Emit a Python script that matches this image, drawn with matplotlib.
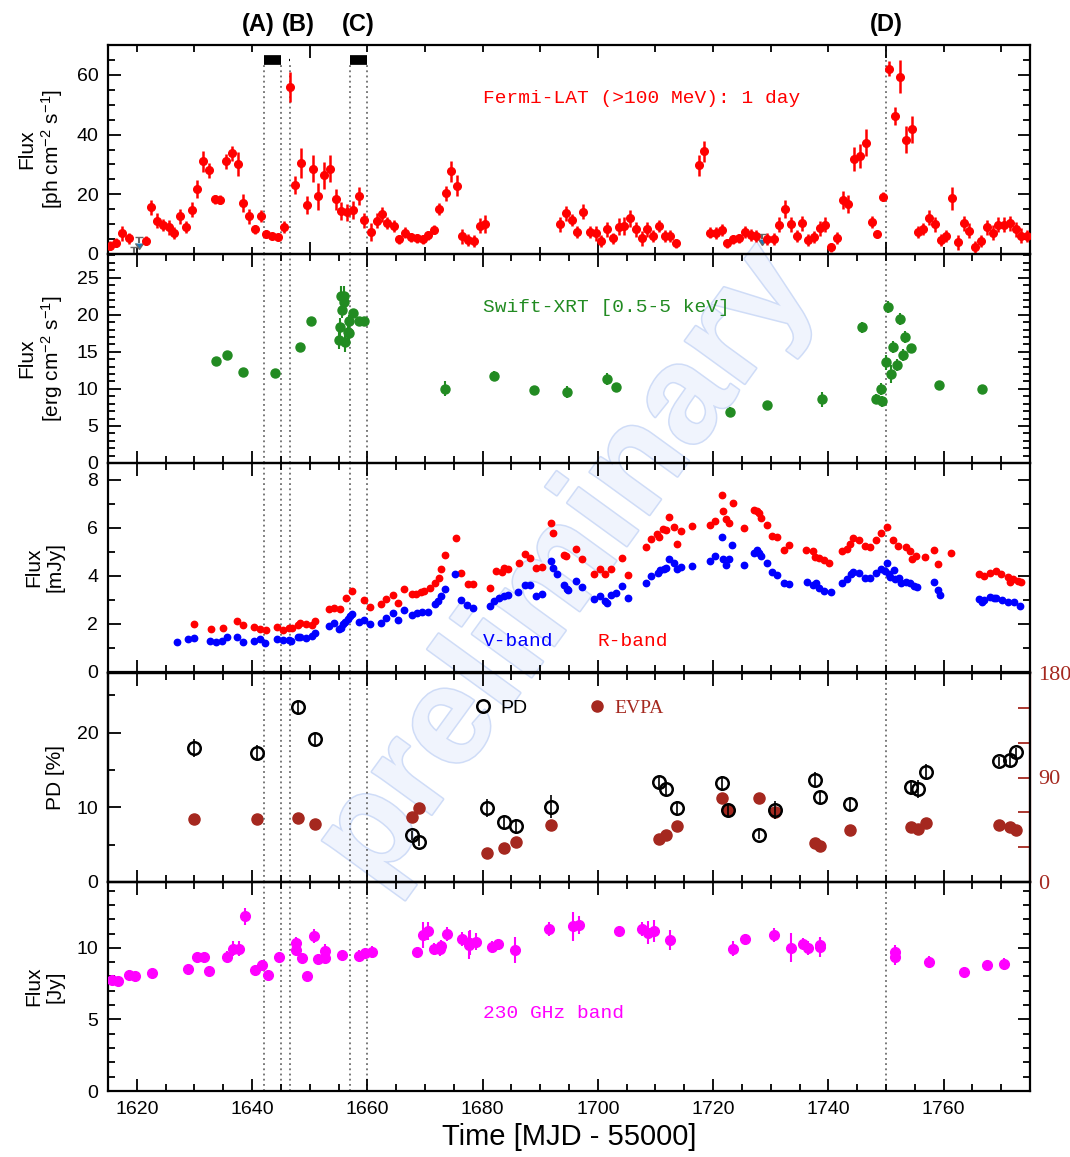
import matplotlib
matplotlib.use("Agg")
import matplotlib.pyplot as plt
from matplotlib.ticker import MultipleLocator
from matplotlib.lines import Line2D
import matplotlib.patheffects as pe

# ---------------- data ----------------
# Fermi-LAT (>100 MeV) daily flux [1e-7 ph cm^-2 s^-1]
fermi_t = [1615.4, 1616.4, 1617.5, 1618.6, 1621.6, 1622.5, 1623.5, 1624.5, 1625.5, 1626.5,
           1627.5, 1628.5, 1629.5, 1630.5, 1631.5, 1632.5, 1633.5, 1634.5, 1635.5, 1636.5,
           1637.5, 1638.5, 1639.5, 1640.5, 1641.5, 1642.5, 1643.5, 1644.5, 1645.5, 1646.5,
           1647.5, 1648.5, 1649.5, 1650.5, 1651.5, 1652.5, 1653.5, 1654.5, 1655.5, 1656.5,
           1657.5, 1658.5, 1659.5, 1660.6, 1661.6, 1662.5, 1663.5, 1664.6, 1665.5, 1666.5,
           1667.6, 1668.6, 1669.6, 1670.6, 1671.6, 1672.5, 1673.6, 1674.5, 1675.6, 1676.5,
           1677.5, 1678.6, 1679.5, 1680.5, 1693.5, 1694.5, 1695.5, 1696.4, 1697.5, 1698.6,
           1699.6, 1700.6, 1701.6, 1702.6, 1703.6, 1704.6, 1705.6, 1706.6, 1707.6, 1708.6,
           1709.6, 1710.6, 1711.6, 1712.6, 1713.6, 1717.5, 1718.5, 1719.5, 1720.5, 1721.5,
           1722.5, 1723.5, 1724.5, 1725.5, 1726.5, 1727.5, 1729.4, 1730.5, 1731.5, 1732.5,
           1733.5, 1734.5, 1735.5, 1736.5, 1737.5, 1738.5, 1739.5, 1740.5, 1741.5, 1742.5,
           1743.5, 1744.5, 1745.5, 1746.5, 1747.5, 1748.5, 1749.5, 1750.5, 1751.5, 1752.5,
           1753.5, 1754.5, 1755.5, 1756.5, 1757.5, 1758.5, 1759.5, 1760.5, 1761.5, 1762.5,
           1763.5, 1764.5, 1765.5, 1766.5, 1767.5, 1768.5, 1769.5, 1770.5, 1771.5, 1772.5,
           1773.5, 1774.5]
fermi_f = [2.8, 3.7, 7.0, 5.2, 4.4, 15.6, 11.1, 9.7, 8.9, 7.0,
           12.6, 9.1, 14.9, 21.7, 31.1, 28.1, 18.3, 18.1, 31.1, 33.7,
           30.0, 17.2, 12.6, 8.3, 12.8, 6.7, 5.9, 5.7, 9.1, 55.9,
           23.1, 30.6, 16.3, 28.6, 19.4, 26.3, 28.6, 18.3, 14.4, 13.9,
           14.8, 19.4, 11.3, 7.4, 11.1, 13.3, 10.3, 9.4, 5.0, 7.2,
           5.6, 5.2, 5.0, 6.3, 8.1, 15.0, 20.3, 27.7, 22.8, 5.9,
           4.8, 4.3, 9.4, 10.0, 10.0, 13.7, 11.4, 7.4, 14.1, 7.4,
           7.0, 4.4, 8.3, 5.2, 9.2, 9.4, 11.9, 8.3, 5.2, 8.3,
           6.1, 9.4, 6.1, 6.1, 3.6, 29.7, 34.4, 7.2, 7.0, 8.1,
           3.6, 5.0, 5.2, 7.4, 6.3, 5.9, 5.0, 5.0, 9.8, 15.0,
           10.0, 6.1, 10.3, 4.8, 5.6, 8.6, 9.8, 2.2, 5.3, 18.1,
           16.7, 31.9, 32.8, 37.2, 10.6, 6.7, 19.1, 62.0, 46.3, 59.4,
           38.3, 41.7, 7.4, 8.3, 12.2, 10.0, 4.8, 6.1, 18.6, 3.9,
           10.3, 7.8, 2.2, 4.4, 8.9, 7.2, 9.8, 9.8, 10.3, 8.3,
           6.1, 6.1]
fermi_e = [1.5, 1.5, 2.5, 2.0, 1.5, 2.5, 2.5, 2.0, 2.5, 2.0,
           2.5, 2.0, 2.5, 3.0, 3.5, 2.5, 1.5, 1.5, 2.5, 2.5,
           4.0, 3.0, 2.5, 1.5, 2.0, 1.5, 1.0, 1.0, 2.0, 5.0,
           3.0, 5.0, 3.0, 4.5, 4.5, 4.5, 4.5, 3.5, 3.0, 3.0,
           3.0, 3.0, 2.5, 3.0, 2.5, 2.5, 2.0, 2.0, 1.5, 2.0,
           1.5, 1.5, 1.5, 1.5, 1.5, 2.0, 2.5, 3.5, 3.5, 2.5,
           2.0, 2.0, 2.5, 3.0, 2.5, 2.5, 2.0, 2.0, 2.5, 2.0,
           2.5, 2.0, 2.5, 2.0, 3.0, 3.0, 3.0, 2.5, 2.5, 2.5,
           2.0, 2.0, 2.0, 2.0, 1.5, 3.5, 3.5, 2.0, 2.0, 2.0,
           1.5, 1.5, 1.5, 2.0, 2.0, 2.0, 2.0, 2.0, 2.5, 3.0,
           2.5, 2.0, 2.5, 2.0, 2.0, 2.5, 2.5, 1.5, 2.0, 3.0,
           3.0, 4.0, 4.0, 4.5, 2.0, 1.0, 1.5, 2.5, 3.0, 5.5,
           4.5, 4.5, 2.0, 2.0, 2.5, 2.5, 2.0, 2.0, 4.0, 2.5,
           2.5, 2.5, 2.0, 2.0, 2.5, 2.5, 2.5, 2.5, 2.5, 2.5,
           2.5, 2.0]
fermi_ul_t = [1619.5, 1620.4, 1728.5]
fermi_ul_f = [2.2, 5.6, 6.8]

# Swift-XRT (0.5-5 keV) flux [1e-12 erg cm^-2 s^-1]
xrt_t = [1633.7, 1635.7, 1638.4, 1643.9, 1648.4, 1650.2, 1655.1, 1655.2, 1655.4, 1655.9,
         1655.9, 1655.6, 1656.2, 1656.7, 1656.9, 1656.8, 1657.5, 1658.5, 1659.5, 1673.5,
         1682.0, 1688.9, 1694.7, 1701.6, 1703.1, 1722.9, 1729.3, 1738.9, 1745.9, 1748.2,
         1749.1, 1749.4, 1750.0, 1750.3, 1750.9, 1751.3, 1752.0, 1752.4, 1752.9, 1753.3,
         1754.3, 1759.2, 1766.6]
xrt_f = [13.7, 14.6, 12.3, 12.2, 15.7, 19.1, 16.6, 18.4, 22.6, 22.6,
         21.7, 20.7, 16.3, 17.7, 17.5, 19.2, 20.2, 19.2, 19.1, 10.0,
         11.8, 9.8, 9.6, 11.3, 10.2, 6.9, 7.8, 8.6, 18.3, 8.7,
         10.0, 8.3, 13.6, 21.0, 12.0, 15.7, 13.2, 19.4, 14.6, 17.0,
         15.5, 10.5, 10.0]
xrt_e = [0.5, 0.5, 0.5, 0.5, 0.5, 0.5, 1.2, 1.2, 1.3, 1.3,
         1.2, 1.2, 1.3, 1.2, 1.2, 0.8, 0.6, 0.5, 0.5, 1.0,
         0.6, 0.6, 0.8, 0.8, 0.6, 0.6, 0.5, 1.0, 0.7, 0.6,
         0.8, 0.8, 1.0, 0.8, 1.2, 0.8, 0.8, 0.8, 0.8, 0.8,
         0.6, 0.6, 0.5]

# Optical V-band flux [mJy]
vband_t = [1626.9, 1628.9, 1629.9, 1632.7, 1633.7, 1634.8, 1635.7, 1637.4, 1638.4, 1640.3,
           1641.3, 1642.3, 1644.4, 1645.3, 1646.4, 1646.8, 1647.9, 1648.4, 1649.4, 1650.4,
           1651.0, 1653.3, 1654.3, 1655.1, 1655.4, 1655.8, 1656.2, 1656.6, 1657.0, 1657.4,
           1658.5, 1659.4, 1660.4, 1662.3, 1663.3, 1664.4, 1665.4, 1666.4, 1667.7, 1668.6,
           1669.5, 1670.6, 1671.7, 1672.2, 1672.8, 1673.5, 1675.3, 1676.3, 1677.3, 1678.3,
           1681.3, 1682.0, 1682.8, 1683.7, 1684.4, 1686.1, 1687.3, 1688.3, 1689.3, 1690.3,
           1691.8, 1692.3, 1692.9, 1694.2, 1694.6, 1694.8, 1696.3, 1697.3, 1699.3, 1700.3,
           1701.3, 1701.6, 1702.3, 1703.1, 1704.2, 1705.3, 1708.3, 1709.2, 1710.4, 1710.8,
           1711.5, 1711.9, 1712.3, 1713.2, 1713.8, 1714.4, 1716.4, 1719.4, 1720.4, 1721.5,
           1721.8, 1722.3, 1722.8, 1723.3, 1725.3, 1727.1, 1727.6, 1727.9, 1728.3, 1729.3,
           1730.3, 1731.1, 1732.3, 1733.1, 1736.3, 1737.4, 1737.8, 1738.3, 1739.2, 1740.4,
           1742.3, 1743.3, 1743.9, 1744.3, 1745.3, 1746.3, 1747.3, 1748.2, 1749.2, 1749.8,
           1750.2, 1750.5, 1750.7, 1751.4, 1751.6, 1752.3, 1752.6, 1753.4, 1754.2, 1754.9,
           1755.4, 1758.3, 1759.1, 1759.4, 1766.2, 1766.6, 1767.1, 1768.1, 1768.8, 1769.1,
           1770.1, 1771.2, 1772.3, 1773.3]
vband_f = [1.26, 1.37, 1.41, 1.30, 1.26, 1.31, 1.44, 1.47, 1.26, 1.30,
           1.37, 1.19, 1.37, 1.33, 1.34, 1.30, 1.44, 1.44, 1.42, 1.51,
           1.62, 1.92, 2.02, 1.78, 1.85, 1.99, 2.10, 2.20, 2.34, 2.41,
           2.09, 2.17, 1.99, 2.03, 2.23, 2.45, 2.16, 2.59, 2.37, 2.45,
           2.48, 2.50, 2.81, 2.96, 3.17, 3.44, 4.09, 2.99, 2.79, 2.68,
           2.75, 2.96, 3.06, 3.17, 3.20, 3.35, 3.64, 3.61, 3.17, 3.25,
           4.62, 4.34, 4.09, 3.64, 3.44, 3.42, 3.79, 3.53, 3.03, 3.17,
           2.95, 2.89, 3.20, 3.28, 3.56, 3.10, 3.72, 4.00, 4.14, 4.25,
           4.30, 4.34, 4.72, 4.55, 4.27, 4.38, 4.41, 4.62, 4.83, 5.62,
           4.69, 4.44, 4.72, 5.30, 4.44, 4.97, 5.08, 4.97, 4.83, 4.55,
           4.16, 4.02, 3.69, 3.65, 3.75, 3.64, 3.69, 3.51, 3.37, 3.33,
           3.72, 3.86, 4.07, 4.18, 4.11, 3.93, 3.93, 4.11, 4.30, 4.21,
           4.52, 4.07, 3.97, 4.23, 3.86, 3.90, 3.69, 3.75, 3.72, 3.58,
           3.54, 3.76, 3.40, 3.20, 3.03, 2.92, 3.00, 3.13, 3.06, 3.10,
           3.00, 2.92, 2.92, 2.75]

# Optical R-band flux [mJy]
rband_t = [1629.9, 1632.8, 1634.9, 1637.4, 1638.4, 1640.4, 1641.3, 1642.4, 1644.4, 1645.3,
           1646.4, 1646.9, 1647.9, 1648.4, 1649.4, 1650.4, 1651.0, 1653.3, 1654.3, 1655.3,
           1656.3, 1657.4, 1659.4, 1660.4, 1662.4, 1663.3, 1664.4, 1665.4, 1666.4, 1667.7,
           1668.5, 1669.3, 1669.9, 1670.8, 1671.8, 1672.4, 1672.8, 1673.4, 1675.4, 1676.3,
           1677.4, 1678.3, 1681.3, 1682.3, 1683.3, 1683.7, 1684.4, 1686.3, 1687.3, 1688.3,
           1689.3, 1690.3, 1691.8, 1692.3, 1694.2, 1694.4, 1696.3, 1697.3, 1699.3, 1700.3,
           1701.3, 1702.3, 1704.2, 1705.3, 1708.3, 1709.2, 1710.3, 1710.7, 1711.3, 1711.9,
           1712.3, 1713.3, 1713.8, 1714.4, 1716.4, 1719.4, 1720.4, 1721.5, 1721.8, 1722.3,
           1722.8, 1723.4, 1725.3, 1727.1, 1727.6, 1727.9, 1728.3, 1729.3, 1730.2, 1731.1,
           1732.3, 1733.1, 1736.2, 1737.3, 1737.7, 1738.3, 1739.2, 1740.2, 1742.3, 1743.3,
           1743.7, 1744.2, 1745.3, 1746.3, 1747.3, 1748.2, 1749.2, 1750.2, 1751.3, 1752.1,
           1753.4, 1754.2, 1754.6, 1755.2, 1756.7, 1758.3, 1759.1, 1761.3, 1766.2, 1767.1,
           1768.1, 1769.1, 1769.9, 1771.1, 1771.6, 1772.1, 1772.9, 1773.4]
rband_f = [1.99, 1.78, 1.83, 2.13, 1.96, 1.88, 1.81, 1.76, 1.88, 1.76,
           1.83, 1.83, 1.96, 2.03, 1.99, 1.96, 2.13, 2.61, 2.68, 2.61,
           3.10, 3.37, 3.00, 2.72, 2.85, 3.03, 3.22, 2.86, 3.44, 3.24,
           3.26, 3.33, 3.37, 3.50, 3.72, 3.90, 4.30, 4.85, 5.56, 4.14,
           3.68, 3.65, 3.51, 4.20, 4.16, 4.34, 4.27, 4.55, 4.92, 4.73,
           4.34, 4.38, 6.21, 5.80, 4.85, 4.83, 5.10, 4.69, 4.07, 4.27,
           4.09, 4.27, 4.73, 4.05, 5.21, 5.52, 5.73, 5.63, 5.96, 5.91,
           6.46, 6.05, 5.31, 5.86, 6.07, 6.11, 6.27, 7.36, 6.69, 6.35,
           6.21, 7.04, 6.00, 6.76, 6.69, 6.62, 6.42, 6.11, 5.66, 5.63,
           5.08, 5.28, 5.06, 5.02, 4.79, 4.74, 4.65, 4.52, 5.02, 5.10,
           5.31, 5.57, 5.48, 5.24, 5.21, 5.49, 5.77, 6.02, 5.48, 5.24,
           5.21, 5.03, 4.72, 4.83, 4.80, 5.08, 4.51, 4.97, 4.07, 4.00,
           4.14, 4.20, 4.09, 3.97, 3.75, 3.89, 3.79, 3.75]

# Optical polarization: degree [%] and angle [deg]
pol_t = [1629.9, 1640.8, 1647.95, 1650.9, 1667.7, 1668.9, 1680.8, 1683.8, 1685.8, 1691.9,
         1710.6, 1711.8, 1713.8, 1721.6, 1722.6, 1727.9, 1730.7, 1737.7, 1738.6, 1743.7,
         1754.4, 1755.6, 1756.9, 1769.6, 1771.6, 1772.6]
pd_val = [17.96, 17.3, 23.4, 19.1, 6.27, 5.38, 9.96, 8.04, 7.47, 10.1,
          13.4, 12.5, 9.9, 13.2, 9.7, 6.36, 9.7, 13.7, 11.4, 10.4,
          12.7, 12.5, 14.8, 16.2, 16.3, 17.4]
pd_err = [1.2, 1.0, 1.0, 0.8, 0.6, 0.6, 1.2, 0.8, 1.0, 1.5,
          0.8, 0.8, 1.0, 1.0, 0.8, 0.6, 1.2, 1.0, 0.8, 0.8,
          1.0, 1.2, 1.0, 0.6, 0.8, 0.6]
evpa_val = [54.6, 54.6, 55.4, 50.3, 56.0, 63.4, 25.1, 28.9, 34.6, 48.9,
            37.4, 40.3, 48.0, 72.3, 62.3, 72.3, 60.3, 33.7, 30.9, 44.6,
            47.4, 46.0, 50.9, 48.9, 47.4, 45.1]

# SMA 230 GHz flux [Jy]
sma_t = [1615.7, 1616.8, 1618.7, 1619.7, 1622.7, 1628.8, 1630.5, 1631.7, 1632.6, 1635.6,
         1636.7, 1637.8, 1638.8, 1640.5, 1641.7, 1642.7, 1644.7, 1647.6, 1647.7, 1648.6,
         1649.6, 1650.7, 1651.5, 1652.7, 1652.7, 1655.6, 1658.5, 1659.6, 1660.8, 1668.6,
         1669.6, 1670.6, 1671.5, 1672.7, 1672.8, 1673.8, 1676.5, 1677.6, 1677.8, 1678.8,
         1681.6, 1682.6, 1685.7, 1691.6, 1695.7, 1696.7, 1703.6, 1707.6, 1708.7, 1709.7,
         1712.6, 1723.5, 1725.5, 1730.5, 1733.5, 1735.6, 1736.4, 1738.5, 1738.5, 1751.6,
         1751.6, 1757.5, 1763.6, 1767.5, 1770.5]
sma_f = [7.75, 7.66, 8.13, 8.03, 8.24, 8.52, 9.33, 9.33, 8.40, 9.38,
         9.95, 9.95, 12.2, 8.45, 8.82, 8.13, 9.33, 10.37, 9.86, 9.28,
         8.01, 10.83, 9.21, 9.75, 9.28, 9.51, 9.44, 9.61, 9.72, 9.68,
         10.88, 11.18, 9.91, 9.91, 10.14, 10.95, 10.60, 10.21, 10.37, 10.44,
         10.07, 10.25, 9.86, 11.34, 11.50, 11.60, 11.18, 11.30, 11.06, 11.18,
         10.56, 9.95, 10.65, 10.88, 10.02, 10.30, 9.98, 10.07, 10.22, 9.68,
         9.33, 9.03, 8.29, 8.82, 8.87]
sma_err = [0.3, 0.3, 0.3, 0.3, 0.3, 0.3, 0.4, 0.4, 0.3, 0.4,
           0.5, 0.5, 0.6, 0.3, 0.3, 0.3, 0.4, 0.4, 0.3, 0.3,
           0.3, 0.5, 0.3, 0.5, 0.3, 0.3, 0.4, 0.4, 0.4, 0.3,
           0.9, 0.6, 0.4, 0.5, 0.4, 0.5, 0.5, 1.0, 0.9, 0.6,
           0.4, 0.4, 0.9, 0.5, 1.0, 0.6, 0.3, 0.5, 0.8, 0.8,
           0.7, 0.5, 0.3, 0.5, 1.0, 0.4, 0.5, 0.7, 0.5, 0.5,
           0.5, 0.4, 0.3, 0.3, 0.4]

# Flare periods and event markers
period_bars = [(1642.0, 1645.0), (1646.45, 1646.55), (1657.0, 1660.0)]
event_lines = [1642.0, 1645.0, 1646.5, 1657.0, 1660.0, 1750.0]
event_labels = ["(A)", "(B)", "(C)", "(D)"]
event_label_t = [1641.0, 1648.0, 1658.5, 1750.1]

# ---------------- style ----------------
sans = ["Liberation Sans", "DejaVu Sans"]
mono = ["Liberation Mono", "DejaVu Sans Mono"]
serif = ["Liberation Serif", "DejaVu Serif"]
plt.rcParams["font.family"] = sans
plt.rcParams["mathtext.fontset"] = "custom"
plt.rcParams["mathtext.rm"] = "Liberation Sans"
plt.rcParams["mathtext.it"] = "Liberation Sans:italic"

RED = "#ff0000"
GREEN = "#228b22"
BLUE = "#0000ff"
BROWN = "#a5281f"
MAGENTA = "#ff00ff"

fig = plt.figure(figsize=(10.7, 11.57), dpi=100)

# shaded "preliminary" watermark behind the panels
fig.text(0.53, 0.51, "preliminary", rotation=54, ha="center", va="center",
         fontsize=100, fontweight="bold", family=sans,
         color="#f0f4fd", zorder=-5,
         path_effects=[pe.withStroke(linewidth=2.2, foreground="#cfdcf7")])

W_PX, H_PX = 1070.0, 1157.0
left = 108 / W_PX
width = 922 / W_PX
panel_h = 209 / H_PX
panel_tops = [45, 254, 463, 673, 882]

axes = []
for top in panel_tops:
    bottom = 1 - (top + 209) / H_PX
    ax = fig.add_axes([left, bottom, width, panel_h])
    ax.patch.set_alpha(0.0)
    axes.append(ax)

ax1, ax2, ax3, ax4, ax5 = axes

for ax in axes:
    ax.set_xlim(1615, 1775)
    for s in ax.spines.values():
        s.set_linewidth(1.6)
    ax.tick_params(which="both", direction="in", top=True, right=True,
                   labelsize=14, width=1.3, pad=7)
    ax.tick_params(which="major", length=9)
    ax.tick_params(which="minor", length=5)
    if ax is ax1:
        ax.xaxis.set_major_locator(MultipleLocator(50))
        ax.xaxis.set_minor_locator(MultipleLocator(10))
    else:
        ax.xaxis.set_major_locator(MultipleLocator(20))
        ax.xaxis.set_minor_locator(MultipleLocator(5))
    if ax is not ax5:
        ax.tick_params(labelbottom=False)
    # event lines
    for t in event_lines:
        if ax is ax1 and t < 1700:
            ax.vlines(t, 0, 63.5, colors="#555555", linestyles=(0, (1.2, 2.2)),
                      linewidth=1.1, zorder=1)
        else:
            ax.axvline(t, color="#555555", linestyle=(0, (1.2, 2.2)),
                       linewidth=1.1, zorder=1)

# ---- panel 1: Fermi-LAT ----
ax1.errorbar(fermi_t, fermi_f, yerr=fermi_e, fmt="o", color=RED, ms=5.5,
             elinewidth=1.8, capsize=0, zorder=3)
ax1.errorbar(fermi_ul_t, fermi_ul_f, yerr=1.8, uplims=True, fmt="none",
             ecolor="#666666", elinewidth=1.5, capsize=3, zorder=3)
for t0, t1 in period_bars:
    ax1.hlines(65, t0, t1, colors="black", linewidth=7 if t1 - t0 > 1 else 1.6,
               zorder=4)
ax1.set_ylim(0, 70)
ax1.yaxis.set_major_locator(MultipleLocator(20))
ax1.yaxis.set_minor_locator(MultipleLocator(5))
ax1.text(0.407, 0.742, "Fermi-LAT (>100 MeV): 1 day", transform=ax1.transAxes,
         color=RED, fontsize=14, family=mono, va="center", ha="left")
for lab, t in zip(event_labels, event_label_t):
    ax1.text(t, 1.1, lab, transform=ax1.get_xaxis_transform(), ha="center",
             va="center", fontsize=17, fontweight="bold")
ax1.set_ylabel("Flux\n[ph cm$^{-2}$ s$^{-1}$]", fontsize=15, linespacing=1.15)

# ---- panel 2: Swift-XRT ----
ax2.errorbar(xrt_t, xrt_f, yerr=xrt_e, fmt="o", color=GREEN, ms=6.5,
             elinewidth=1.5, capsize=0, zorder=3)
ax2.set_ylim(0, 28.2)
ax2.yaxis.set_major_locator(MultipleLocator(5))
ax2.yaxis.set_minor_locator(MultipleLocator(1))
ax2.text(0.407, 0.746, "Swift-XRT [0.5-5 keV]", transform=ax2.transAxes,
         color=GREEN, fontsize=14, family=mono, va="center", ha="left")
ax2.set_ylabel("Flux\n[erg cm$^{-2}$ s$^{-1}$]", fontsize=15, linespacing=1.15)

# ---- panel 3: optical V and R ----
ax3.plot(rband_t, rband_f, "o", color=RED, ms=4.6, zorder=3)
ax3.plot(vband_t, vband_f, "o", color=BLUE, ms=4.6, zorder=3)
ax3.set_ylim(0, 8.7)
ax3.yaxis.set_major_locator(MultipleLocator(2))
ax3.yaxis.set_minor_locator(MultipleLocator(1))
ax3.text(0.407, 0.144, "V-band", transform=ax3.transAxes, color=BLUE,
         fontsize=14, family=mono, va="center", ha="left")
ax3.text(0.531, 0.144, "R-band", transform=ax3.transAxes, color=RED,
         fontsize=14, family=mono, va="center", ha="left")
ax3.set_ylabel("Flux\n[mJy]", fontsize=15, linespacing=1.15)

# ---- panel 4: polarization ----
ax4.tick_params(which="both", right=False)
ax4r = ax4.twinx()
ax4r.patch.set_alpha(0.0)
ax4r.plot(pol_t, evpa_val, "o", color=BROWN, ms=8, zorder=2)
ax4.errorbar(pol_t, pd_val, yerr=pd_err, fmt="o", mfc="none", mec="black",
             mew=1.8, ms=9, ecolor="black", elinewidth=1.2, capsize=0, zorder=4)
ax4.set_zorder(ax4r.get_zorder() + 1)
ax4.set_ylim(0, 28)
ax4.yaxis.set_major_locator(MultipleLocator(10))
ax4.yaxis.set_minor_locator(MultipleLocator(5))
ax4r.set_ylim(0, 180)
ax4r.yaxis.set_major_locator(MultipleLocator(90))
ax4r.yaxis.set_minor_locator(MultipleLocator(30))
ax4r.tick_params(which="both", direction="in", colors=BROWN, width=1.3,
                 labelsize=16, pad=6)
ax4r.tick_params(which="major", length=9)
ax4r.tick_params(which="minor", length=9)
for lab in ax4r.get_yticklabels():
    lab.set_family(serif)
for s in ax4r.spines.values():
    s.set_linewidth(1.6)
ax4r.spines["right"].set_color(BROWN)
handles = [Line2D([], [], marker="o", ls="none", mfc="none", mec="black", mew=1.8, ms=9),
           Line2D([], [], marker="o", ls="none", color=BROWN, ms=8)]
leg = ax4.legend(handles, ["PD", "EVPA"], ncol=2, frameon=False,
                 loc="center left", bbox_to_anchor=(0.398, 0.833),
                 borderpad=0, borderaxespad=0, handlelength=0.8,
                 handletextpad=0.5, columnspacing=3.2,
                 prop={"size": 14})
leg.get_texts()[1].set_color(BROWN)
leg.get_texts()[1].set_family(serif)
ax4.set_ylabel("PD [%]", fontsize=15)

# ---- panel 5: 230 GHz ----
ax5.errorbar(sma_t, sma_f, yerr=sma_err, fmt="o", color=MAGENTA, ms=7,
             elinewidth=1.5, capsize=0, zorder=3)
ax5.set_ylim(0, 14.6)
ax5.yaxis.set_major_locator(MultipleLocator(5))
ax5.yaxis.set_minor_locator(MultipleLocator(1))
ax5.text(0.407, 0.373, "230 GHz band", transform=ax5.transAxes, color=MAGENTA,
         fontsize=14, family=mono, va="center", ha="left")
ax5.set_ylabel("Flux\n[Jy]", fontsize=15, linespacing=1.15)
ax5.set_xlabel("Time [MJD - 55000]", fontsize=21, labelpad=4)

for ax in axes:
    ax.yaxis.set_label_coords(-0.047, 0.5)

fig.savefig("out.png", dpi=100)
